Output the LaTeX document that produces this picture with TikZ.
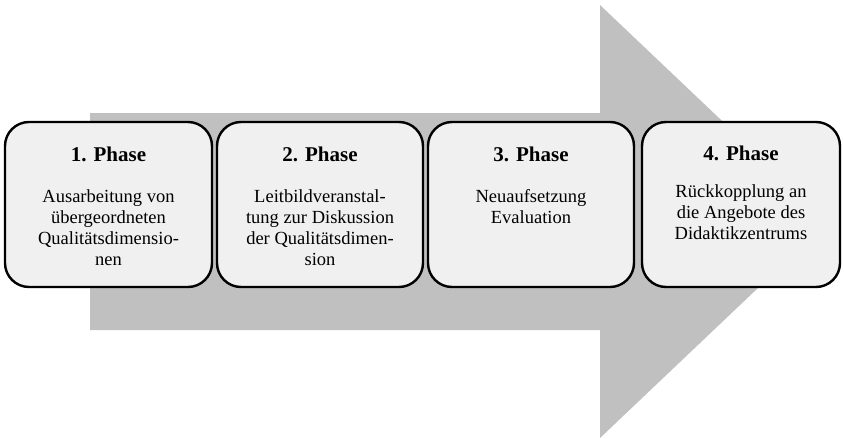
\documentclass[tikz,border=0pt]{standalone}
\usepackage{fontspec}
\setmainfont{Liberation Serif}
\begin{document}
\begin{tikzpicture}[x=1pt,y=-1pt,
  phasebox/.style={draw=black, line width=2.4pt, fill=boxfill, rounded corners=24pt},
  phasetitle/.style={anchor=base, inner sep=0pt, font=\fontsize{21}{24}\selectfont\bfseries},
  phasetext/.style={anchor=north, inner sep=0pt, align=center,
    font=\fontsize{18.5}{21}\selectfont}]
\definecolor{arrowgrey}{HTML}{C0C0C0}
\definecolor{boxfill}{HTML}{F0F0F0}
\useasboundingbox (0,0) rectangle (844,439);

% large grey block arrow in the background
\fill[arrowgrey] (90,113) -- (600,113) -- (600,5) -- (828,221.5)
  -- (600,438) -- (600,330) -- (90,330) -- cycle;

% the four phase boxes
\draw[phasebox] (5,122) rectangle (212,287);
\draw[phasebox] (217,122) rectangle (423,287);
\draw[phasebox] (428,122) rectangle (634,287);
\draw[phasebox] (642,122) rectangle (840,287);

% titles
\node[phasetitle] (t1) at (108.5,161) {1. Phase};
\node[phasetitle] (t2) at (320,161) {2. Phase};
\node[phasetitle] (t3) at (531,161) {3. Phase};
\node[phasetitle] (t4) at (741,160) {4. Phase};

% descriptions (north edge = first baseline minus ascender height)
\node[phasetext] (d1) at (108.5,189.4) {Ausarbeitung von\\übergeordneten\\Qualitätsdimensio-\\nen};
\node[phasetext] (d2) at (320,189.4) {Leitbildveranstal-\\tung zur Diskussion\\der Qualitätsdimen-\\sion};
\node[phasetext] (d3) at (531,189.4) {Neuaufsetzung\\Evaluation};
\node[phasetext] (d4) at (741,184.4) {Rückkopplung an\\die Angebote des\\Didaktikzentrums};
\end{tikzpicture}
\end{document}
